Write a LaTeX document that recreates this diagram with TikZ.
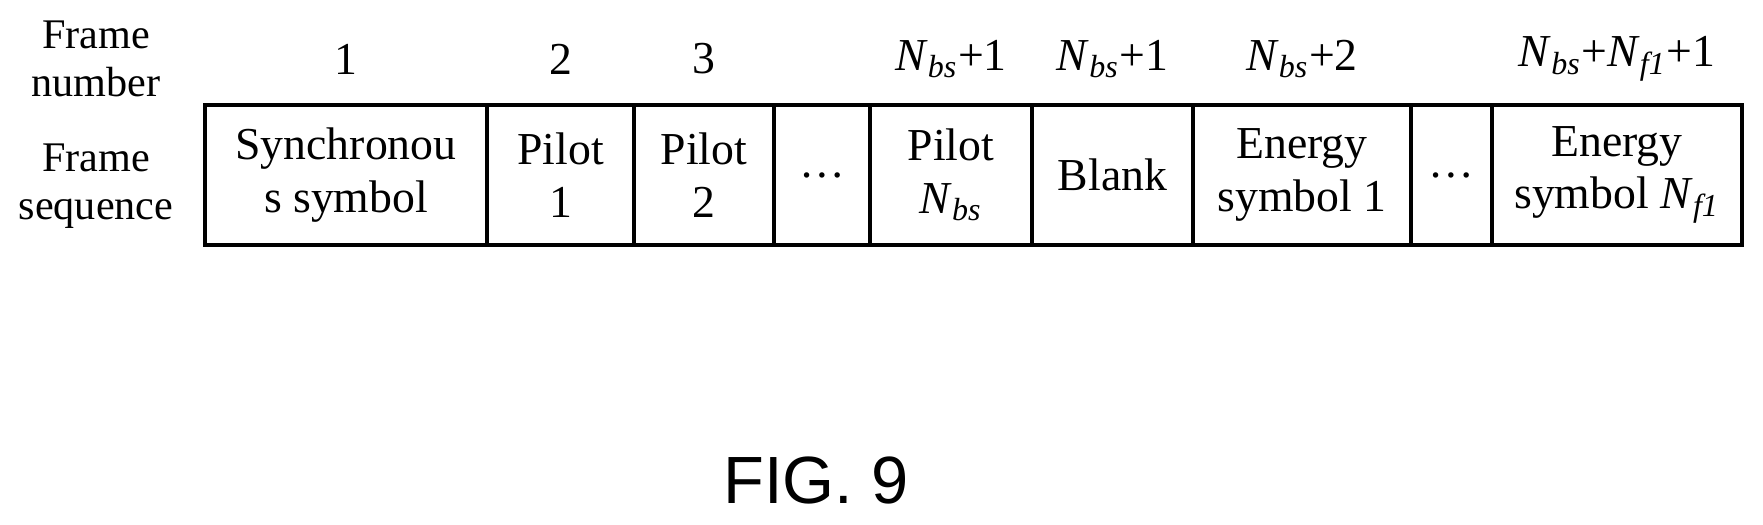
\documentclass[tikz,border=0pt]{standalone}
\usepackage{fontspec}
\setmainfont{Liberation Serif}
\newfontfamily\figfont{Liberation Sans}
\usetikzlibrary{positioning}
\newcommand\Nbs{\textit{N}\textsubscript{\textit{bs}}}
\newcommand\Nfa{\textit{N}\textsubscript{\textit{f1}}}
\tikzset{
cell/.style = {draw, line width = 1.1pt, minimum height = 1.4cm, inner sep = 0pt, align = center, font = \fontsize{13}{15}\selectfont},
numlabel/.style = {font = \fontsize{13}{15}\selectfont},
rowlabel/.style = {align = center, font = \fontsize{12}{13.5}\selectfont}}
\begin{document}
\begin{tikzpicture}[x=0.01cm,y=-0.01cm]
\useasboundingbox (0,0) rectangle (1763,524);
%
% cells of the frame sequence: left edge / right edge / name / text / number
\foreach \xa/\xb/\nm/\txt/\num in {
205/487/sync/{Synchronou\\s symbol}/1,
487/634/pilota/{Pilot\\1}/2,
634/774/pilotb/{Pilot\\2}/3,
774/870/dotsa/{\ldots}/,
870/1032/pilotn/{Pilot\\\Nbs}/{\Nbs+1},
1032/1193/blank/{Blank}/{\Nbs+1},
1193/1411/energya/{Energy\\symbol 1}/{\Nbs+2},
1411/1492/dotsb/{\ldots}/,
1492/1742/energyn/{Energy\\symbol \Nfa}/{\Nbs+\Nfa+1}}
{
\pgfmathsetmacro\w{(\xb-\xa)*0.01}
\node[cell, minimum width = \w cm] (\nm) at ({(\xa+\xb)/2},175) {\txt};
\node[numlabel] (num-\nm) at ({(\xa+\xb)/2},59) {\num};
}
%
% row labels
\node[rowlabel] (numrow) at (96,59) {Frame\\number};
\node[rowlabel] (seqrow) at (96,186) {Frame\\sequence};
%
\node[font = \figfont\fontsize{19}{22}\selectfont] (fig) at (816,480) {FIG. 9};
\end{tikzpicture}
\end{document}
